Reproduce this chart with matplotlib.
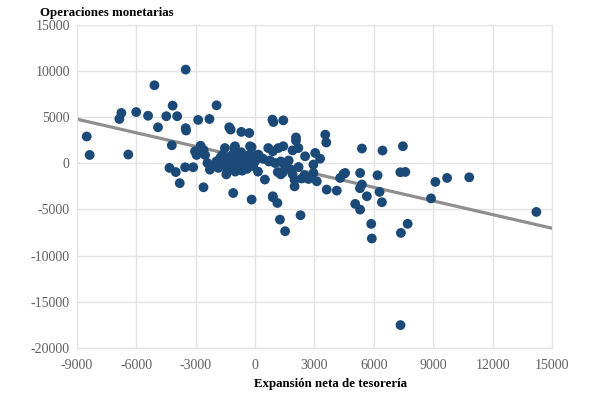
import numpy as np
import matplotlib
matplotlib.use("Agg")
import matplotlib.pyplot as plt

# Expansion neta de tesoreria (x) vs operaciones monetarias (y)
exp_neta = [
    -8500, -8350, -6850, -6750, -6400, -6000, -5400, -5080, -4900, -4480,
    -4160, -3930, -4200, -4320, -4000, -3800, -3500, -3500, -3480, -3530,
    -3120, -2870, -2300, -1940, -3030, -2950, -2750, -2600, -2520, -2600,
    -2400, -2280, -1300, -1230, -1040, -1520, -1010, -1100, -690, -290,
    -250, -170, -170,
    -2100, -1950, -1850, -1750, -1650, -1600, -1500, -1450, -1400, -1300,
    -1250, -1200, -1100, -1000, -950, -850, -800, -700, -650, -550,
    -450, -400, -300, -200, -100, 0, 100, 150,
    880, 930, 1430, 2070, 2070, 1900, 2190, 670, 900, 1180,
    1430, 170, 760, 1010, 1150, 1300, 1400, 1800, 1900, 2000,
    2000, 2360, 500, 900, 900, 1130, 1260, 1520, 2300, 2530,
    3040, 3290, 2950, 2950, 3120, 3550, 3600, 3620, 4130, 4300,
    4470, 4550, 5310, 5400, 5300, 5400, 6440, 7470, 7340, 7590,
    6190, 5060, 5310, 5650, 6290, 6410, 5870, 5900, 7370, 7710,
    7350, 8890, 9110, 9700, 10820, 14210,
    400, 700, 1300, 1500, 1700, 1600, 2200, 2500, 2700,
]
op_monet = [
    2900, 900, 4800, 5450, 950, 5550, 5150, 8450, 3900, 5100,
    6250, 5100, 1950, -500, -950, -2150, 10150, 3800, 3550, -430,
    -430, 4700, 4800, 6280, 1300, 900, 1900, 1450, 900, -2600,
    30, -690, 3900, 3650, 1700, 1650, 1840, -3220, 3400, 3280,
    1840, 1750, -3930,
    -300, 200, -500, 600, 900, -100, 300, -1200, -700, 700,
    100, -400, 1000, -900, 400, 800, -200, 1200, -800, 500,
    0, -600, 900, 300, -300, 200, 900, -900,
    4730, 4470, 4650, 2800, 2450, 1400, 1650, 1650, 1300, 1650,
    1850, 940, 300, 30, -950, -1200, -1000, -650, -1200, -1800,
    -2500, -1650, -1760, -3570, -3680, -4300, -6100, -7360, -5630, 760,
    1120, 500, -140, -1050, -1950, 3100, 2250, -2850, -2960, -1590,
    -1160, -1050, -1050, -2300, -2700, 1600, 1380, 1850, -970, -940,
    -1300, -4400, -5020, -3570, -3100, -4220, -6560, -8150, -7540, -6560,
    -17530, -3800, -2020, -1590, -1520, -5270,
    500, 200, 200, -200, 300, -600, -400, -1300, -1700,
]

x_ticks = [-9000, -6000, -3000, 0, 3000, 6000, 9000, 12000, 15000]
y_ticks = [-20000, -15000, -10000, -5000, 0, 5000, 10000, 15000]

x = np.array(exp_neta)
y = np.array(op_monet)
m, b = np.polyfit(x, y, 1)

plt.rcParams['font.family'] = ['Liberation Serif', 'DejaVu Serif']
plt.rcParams['axes.unicode_minus'] = False

fig = plt.figure(figsize=(6, 3.94), dpi=100)
ax = fig.add_axes([0.128, 0.117, 0.792, 0.82])

grid_c = '#e3e3e3'
ax.set_axisbelow(True)
ax.grid(True, color=grid_c, linewidth=1)
for s in ax.spines.values():
    s.set_color(grid_c)

xl = np.array([x_ticks[0], x_ticks[-1]])
ax.plot(xl, m * xl + b, color='#8f8f8f', linewidth=2.3, zorder=2)
ax.scatter(x, y, s=50, color='#1c4a78', edgecolors='none', zorder=3)

ax.set_xlim(x_ticks[0], x_ticks[-1])
ax.set_ylim(y_ticks[0], y_ticks[-1])
ax.set_xticks(x_ticks)
ax.set_yticks(y_ticks)
ax.tick_params(length=0, labelsize=10, colors='#606060')
ax.tick_params(axis='x', pad=8)
ax.tick_params(axis='y', pad=5)

fig.text(0.067, 0.968, 'Operaciones monetarias', fontsize=9.3,
         fontweight='bold', va='center', ha='left', color='black')
fig.text(0.55, 0.025, 'Expansión neta de tesorería', fontsize=9.3,
         fontweight='bold', va='center', ha='center', color='black')

fig.savefig('out.png', dpi=100)
